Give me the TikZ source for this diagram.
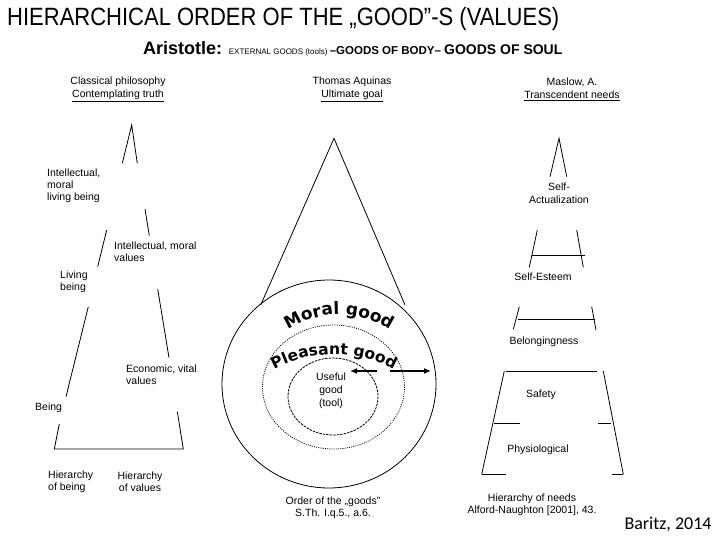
\documentclass[tikz,border=0pt]{standalone}
\usepackage{fontspec}
\usepackage{graphicx}
\setmainfont{Liberation Sans}
\newfontfamily\wordart{DejaVu Sans}
\newfontfamily\baritzfont{Carlito}
\usetikzlibrary{decorations.text,arrows.meta}
\begin{document}
\begin{tikzpicture}[x=1pt,y=-1pt,
  shp/.style={line width=0.8pt},
  lbl/.style={inner sep=0pt,font=\fontsize{10.5}{12}\selectfont},
  hdr/.style={inner sep=0pt,align=center,font=\fontsize{10.5}{13}\selectfont},
  arr/.style={line width=2pt,-{Latex[length=7pt,width=6pt]}}
]
\useasboundingbox (0,0) rectangle (720,540);
% title
\node[inner sep=0pt,anchor=west,font=\fontsize{25}{25}\selectfont] (title) at (7,19)
  {\scalebox{0.88}[1]{HIERARCHICAL ORDER OF THE „GOOD”-S (VALUES)}};
\node[inner sep=0pt,anchor=base west] (arist) at (143,55)
  {{\fontsize{18}{18}\selectfont\bfseries Aristotle: }{\fontsize{8}{8}\selectfont EXTERNAL GOODS (tools) }{\fontsize{11.5}{11.5}\selectfont\bfseries –GOODS OF BODY– }{\fontsize{14}{14}\selectfont\bfseries GOODS OF SOUL}};
% headers
\node[hdr] (h1) at (118,89.5) {Classical philosophy\\\underline{Contemplating truth}};
\node[hdr] (h2) at (352,89.5) {Thomas Aquinas\\\underline{Ultimate goal}};
\node[hdr] (h3) at (572,89.5) {Maslow, A.\\\underline{Transcendent needs}};
% left pyramid
\draw[shp] (122.3,163.3) -- (131.7,125) -- (137.3,163.3);
\draw[shp] (145,209) -- (149.3,235.7);
\draw[shp] (106.7,230) -- (97.7,266.7);
\draw[shp] (157.7,289) -- (169,357.7);
\draw[shp] (88.3,306.7) -- (66,396.7);
\draw[shp] (59.3,424) -- (54.3,449) -- (183.3,449) -- (177.3,411.7);
\node[lbl,anchor=west,align=left] (int1) at (47,186) {Intellectual,\\moral\\living being};
\node[lbl,anchor=west,align=left] (int2) at (114,252) {Intellectual, moral\\values};
\node[lbl,anchor=west,align=left] (liv) at (60,282) {Living\\being};
\node[lbl,anchor=west,align=left] (eco) at (126,375) {Economic, vital\\values};
\node[lbl,anchor=west] (being) at (35,408) {Being};
\node[lbl,anchor=west,align=left] (hb) at (48,482) {Hierarchy\\of being};
\node[lbl,align=center] (hv) at (140,482) {Hierarchy\\of values};
% middle cone and circles
\draw[shp] (260.7,305) -- (334,138.3) -- (405,305);
\draw[line width=0.8pt] (329,384) ellipse [x radius=107,y radius=104];
\draw[line width=0.8pt,dash pattern=on 1pt off 1.2pt] (333.5,387) ellipse [x radius=71,y radius=62];
\draw[line width=0.8pt,dash pattern=on 2.5pt off 1pt] (333,396.5) ellipse [x radius=45,y radius=38.5];
\path[decorate,decoration={text along path,text align=center,
   text={|\wordart\bfseries\fontsize{17}{17}\selectfont|Moral good}}]
   (282,334) .. controls (318,308) and (360,308) .. (396,334);
\path[decorate,decoration={text along path,text align=center,
   text={|\wordart\bfseries\fontsize{15.5}{15.5}\selectfont|Pleasant good}}]
   (264,376) .. controls (304,347) and (364,347) .. (404,376);
\coordinate (a1s) at (377,371);
\coordinate (a1e) at (350,371);
\coordinate (a2s) at (390,371);
\coordinate (a2e) at (431,371);
\draw[arr] (a1s) -- (a1e);
\draw[arr] (a2s) -- (a2e);
\node[lbl,align=center,font=\fontsize{10.5}{13}\selectfont] (useful) at (331,391) {Useful\\good\\(tool)};
\node[lbl,align=center] (order) at (333,507.5) {Order of the „goods"\\S.Th. I.q.5., a.6.};
% Maslow pyramid
\draw[shp] (550,176.7) -- (559,138.3) -- (566.7,176.7);
\draw[shp] (537.3,230) -- (529.3,267.3);
\draw[shp] (576.7,230) -- (583.3,267.3);
\draw[shp] (531.7,255) -- (585,255);
\draw[shp] (519.3,306.7) -- (513.3,329.3);
\draw[shp] (591.7,306.7) -- (596,330);
\draw[shp] (518,319) -- (594.5,319);
\draw[shp] (504.3,371) -- (481.7,474.3);
\draw[shp] (603.3,371) -- (623.3,474.3);
\draw[shp] (506,371) -- (597.3,371);
\draw[shp] (494,423.3) -- (520,423.3);
\draw[shp] (598.3,423.3) -- (611,423.3);
\draw[shp] (481.7,474.3) -- (505.7,474.3);
\draw[shp] (611.7,474.3) -- (623.3,474.3);
\node[hdr] (selfact) at (559,193) {Self-\\Actualization};
\node[lbl] (selfest) at (543,277) {Self-Esteem};
\node[lbl] (belong) at (544,342) {Belongingness};
\node[lbl] (safety) at (541,395) {Safety};
\node[lbl] (physio) at (538,450) {Physiological};
\node[lbl,align=center] (hneeds) at (532,505) {Hierarchy of needs\\Alford-Naughton [2001], 43.};
\node[inner sep=0pt,font=\baritzfont\fontsize{18}{18}\selectfont] (baritz) at (668,524) {Baritz, 2014};
\end{tikzpicture}
\end{document}
